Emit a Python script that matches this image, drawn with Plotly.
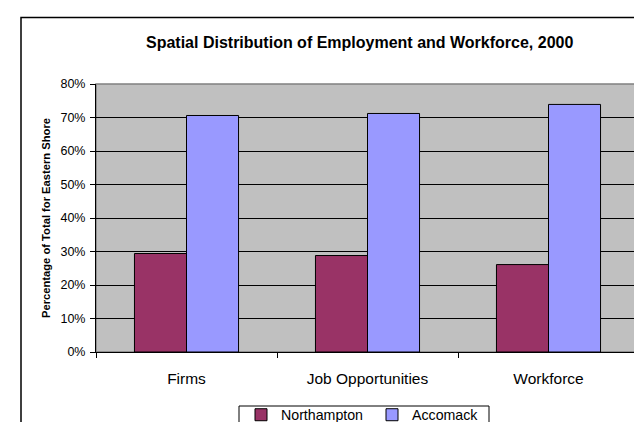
import plotly.graph_objects as go

categories = ["Firms", "Job Opportunities", "Workforce"]
northampton = [29.4, 28.8, 26.1]
accomack = [70.6, 71.2, 73.9]
y_ticks = [0, 10, 20, 30, 40, 50, 60, 70, 80]
y_tick_labels = [f"{v}%" for v in y_ticks]

FONT = "Liberation Sans, Arial, sans-serif"

W, H = 642, 422
L, R, T, B = 88, 11, 76, 78
pw, ph = W - L - R, H - T - B

def px_x(px):
    return (px - L) / pw

def px_y(py):
    return (H - B - py) / ph

fig = go.Figure()
fig.add_trace(go.Bar(x=categories, y=northampton, name="Northampton",
                     marker=dict(color="#993366", line=dict(color="black", width=1))))
fig.add_trace(go.Bar(x=categories, y=accomack, name="Accomack",
                     marker=dict(color="#9999FF", line=dict(color="black", width=1))))

fig.update_layout(
    width=W, height=H,
    margin=dict(l=L, r=R, t=T, b=B, autoexpand=False),
    paper_bgcolor="white",
    plot_bgcolor="#C0C0C0",
    barmode="group",
    bargap=0.425,
    bargroupgap=0,
    font=dict(family=FONT, color="black"),
    showlegend=True,
    legend=dict(orientation="h", x=px_x(233), xanchor="left", y=px_y(391), yanchor="top",
                borderwidth=0, bgcolor="rgba(0,0,0,0)",
                font=dict(size=14.2, family=FONT), itemwidth=30, traceorder="normal",
                entrywidth=86, entrywidthmode="pixels"),
    xaxis=dict(type="category", tickson="boundaries", ticks="outside", ticklen=5,
               tickcolor="black", showline=True, linecolor="black", linewidth=1,
               showgrid=False, tickfont=dict(size=15.5), ticklabelstandoff=12,
               range=[-0.5, 2.5]),
    yaxis=dict(range=[0, 80], tickvals=y_ticks, ticktext=y_tick_labels,
               ticks="outside", ticklen=5, tickcolor="black",
               showline=True, linecolor="black", linewidth=1,
               showgrid=True, gridcolor="black", gridwidth=1,
               tickfont=dict(size=12.5), zeroline=False, ticklabelstandoff=2),
    shapes=[
        dict(type="rect", xref="paper", yref="paper", x0=0, x1=1, y0=0, y1=1,
             line=dict(color="#808080", width=1.5), layer="below"),
        dict(type="rect", xref="paper", yref="paper", x0=px_x(13), x1=px_x(700),
             y0=px_y(480), y1=px_y(9.5), line=dict(color="black", width=1.5)),
        dict(type="rect", xref="paper", yref="paper", x0=px_x(231), x1=px_x(481),
             y0=px_y(440), y1=px_y(398), line=dict(color="black", width=1),
             fillcolor="white", layer="below"),
    ],
    annotations=[
        dict(text="<b>Spatial Distribution of Employment and Workforce, 2000</b>",
             xref="paper", yref="paper", x=px_x(351), y=px_y(35),
             xanchor="center", yanchor="middle", showarrow=False,
             font=dict(size=16, family=FONT)),
        dict(text="<b>Percentage of Total for Eastern Shore</b>",
             xref="paper", yref="paper", x=px_x(38), y=0.5, textangle=-90,
             xanchor="center", yanchor="middle", showarrow=False,
             font=dict(size=11.2, family=FONT)),
    ],
)

fig.write_html("out.html")
